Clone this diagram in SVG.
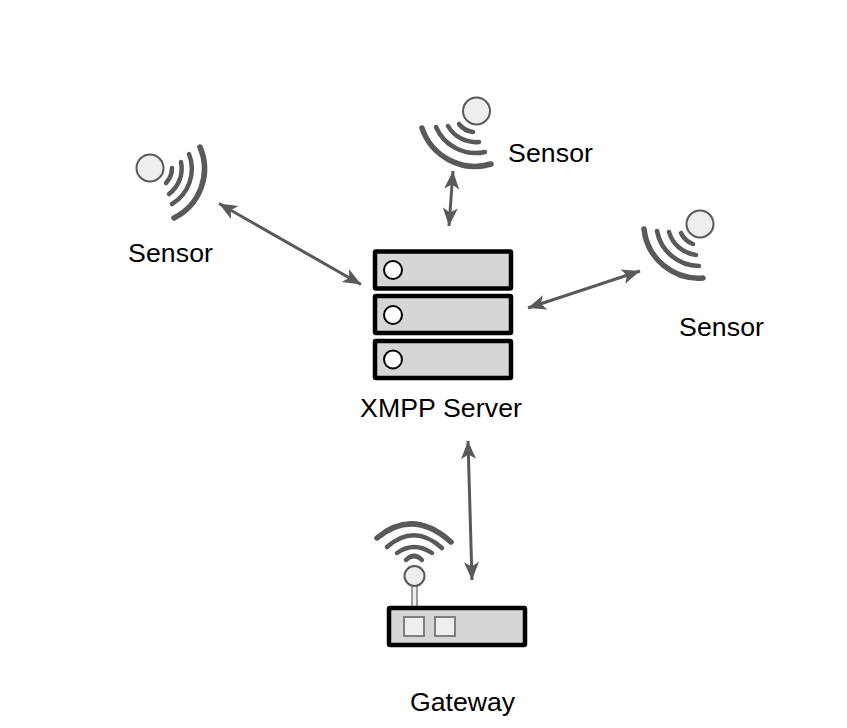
<svg xmlns="http://www.w3.org/2000/svg" width="847" height="728" viewBox="0 0 847 728">
<style>
text{font-family:"Liberation Sans",Arial,sans-serif;font-size:26.67px;fill:#000}
.w{fill:none;stroke:#595959;stroke-linecap:round}
.o{stroke-width:5.500}.m{stroke-width:4.500}
.b{fill:#eeeeee;stroke:#595959;stroke-width:2}
.box{fill:#d6d6d6;stroke:#000;stroke-width:4.500}
.led{fill:#fff;stroke:#000;stroke-width:2}
.sq{fill:#eeeeee;stroke:#7f7f7f;stroke-width:2}
.c{fill:none;stroke:#595959;stroke-width:3;marker-start:url(#a);marker-end:url(#a)}
</style>
<defs>
<marker id="a" markerUnits="userSpaceOnUse" markerWidth="22" markerHeight="18" refX="19" refY="8" orient="auto-start-reverse" viewBox="0 0 22 16">
<path d="M19,8 L1,0.500 L5.500,8 L1,15.500 Z" fill="#595959"/>
</marker>
</defs>
<g id="connectors">
<path class="c" d="M219,203.500 L361,284.500"/>
<path class="c" d="M453,171 L449,226"/>
<path class="c" d="M528,308 L640,271"/>
<path class="c" d="M468,441 L472,580"/>
</g>
<g id="sensor-left">
<circle class="b" cx="150" cy="168" r="13.500"/>
<path class="w m" d="M166,183 A22,22 0 0 0 172,168"/>
<path class="w m" d="M169,194 A32,32 0 0 0 181,162"/>
<path class="w m" d="M172,204 A41,41 0 0 0 189,154"/>
<path class="w o" d="M174,218 A55,55 0 0 0 200,147"/>
<text x="128" y="262" textLength="85">Sensor</text>
</g>
<g id="sensor-top">
<circle class="b" cx="476.500" cy="111" r="13.500"/>
<path class="w m" d="M459,124 A21,21 0 0 0 473,132"/>
<path class="w m" d="M448,126 A32,32 0 0 0 479,142"/>
<path class="w m" d="M436,127 A43,43 0 0 0 485,152"/>
<path class="w o" d="M422,128 A56,56 0 0 0 491,164"/>
<text x="508" y="162" textLength="85">Sensor</text>
</g>
<g id="sensor-right">
<circle class="b" cx="700" cy="224" r="13.500"/>
<path class="w m" d="M681,233 A21,21 0 0 0 693,244"/>
<path class="w m" d="M669,232 A32,32 0 0 0 696,255"/>
<path class="w m" d="M657,231 A43,43 0 0 0 699,266"/>
<path class="w o" d="M644,229 A55,55 0 0 0 703,278"/>
<text x="679" y="336" textLength="85">Sensor</text>
</g>
<g id="server">
<rect class="box" x="375" y="251.500" width="136" height="37" rx="1"/>
<rect class="box" x="375" y="296" width="136" height="37" rx="1"/>
<rect class="box" x="375" y="341" width="136" height="37" rx="1"/>
<circle class="led" cx="393" cy="270" r="9"/>
<circle class="led" cx="393" cy="315" r="9"/>
<circle class="led" cx="393" cy="359.500" r="9"/>
<text x="360" y="417" textLength="162">XMPP Server</text>
</g>
<g id="gateway">
<rect x="412" y="585" width="5" height="22" fill="#eeeeee" stroke="#7f7f7f" stroke-width="1.500"/>
<circle class="b" cx="414.500" cy="576" r="10"/>
<path class="w o" d="M377,538 Q413,508 451,542"/>
<path class="w m" d="M387,547 Q414,523 442,548"/>
<path class="w m" d="M397,553 Q414,541 432,553"/>
<path class="w m" d="M406,560 Q414,552 422,560"/>
<rect class="box" x="389" y="608" width="136" height="37" rx="1"/>
<rect class="sq" x="404" y="617" width="20" height="19"/>
<rect class="sq" x="435" y="617" width="20" height="19"/>
<text x="410" y="711">Gateway</text>
</g>
</svg>
